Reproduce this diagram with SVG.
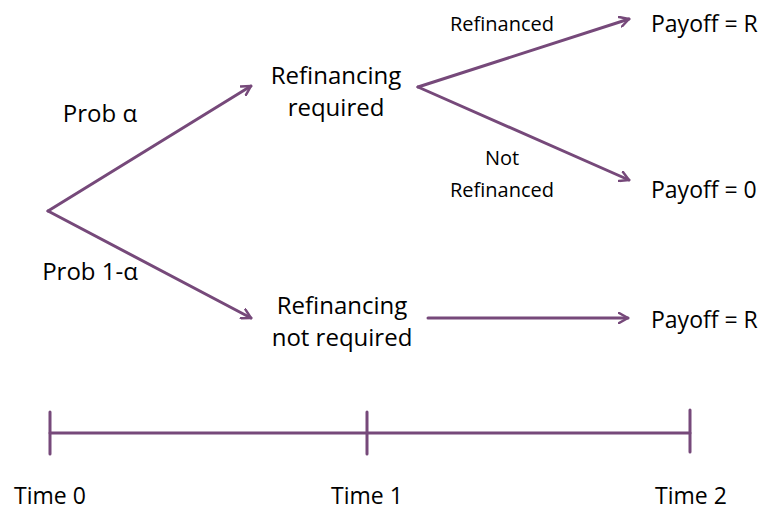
<svg xmlns="http://www.w3.org/2000/svg" width="768" height="512" viewBox="0 0 768 512">
<defs>
<style>
.c{stroke:#76497a;stroke-width:3;fill:none;stroke-linecap:round}
.t{font-family:"Open Sans","Noto Sans",sans-serif;font-size:24px;fill:#000}
.p{font-family:"Open Sans","Noto Sans",sans-serif;font-size:23px;fill:#000}
.m{font-family:"Open Sans","Noto Sans",sans-serif;font-size:23px;fill:#000}
.s{font-family:"Open Sans","Noto Sans",sans-serif;font-size:20px;fill:#000}
</style>
<marker id="a" viewBox="0 0 12 12" refX="10" refY="6" markerWidth="12" markerHeight="12" markerUnits="userSpaceOnUse" orient="auto">
<path d="M1,1 L10,6 L1,11" fill="none" stroke="#76497a" stroke-width="2.5" stroke-linecap="round" stroke-linejoin="round"/>
</marker>
</defs>
<rect width="768" height="512" fill="#fff"/>
<g id="connectors">
<line class="c" x1="48" y1="211" x2="251" y2="86" marker-end="url(#a)"/>
<line class="c" x1="48" y1="211" x2="251" y2="318" marker-end="url(#a)"/>
<line class="c" x1="418" y1="87" x2="629" y2="19" marker-end="url(#a)"/>
<line class="c" x1="418" y1="87" x2="629" y2="180" marker-end="url(#a)"/>
<line class="c" x1="428" y1="318" x2="628" y2="318" marker-end="url(#a)"/>
</g>
<g id="labels">
<text class="t" x="100" y="122" text-anchor="middle">Prob α</text>
<text class="t" x="90" y="280" text-anchor="middle">Prob 1-α</text>
<text class="s" x="502" y="31" text-anchor="middle">Refinanced</text>
<text class="s" x="502" y="165" text-anchor="middle">Not</text>
<text class="s" x="502" y="197" text-anchor="middle">Refinanced</text>
</g>
<g id="node-refi-required">
<text class="t" x="336" y="84" text-anchor="middle">Refinancing</text>
<text class="t" x="336" y="116" text-anchor="middle">required</text>
</g>
<g id="node-refi-not-required">
<text class="t" x="342" y="314" text-anchor="middle">Refinancing</text>
<text class="t" x="342" y="346" text-anchor="middle">not required</text>
</g>
<g id="node-payoff-r1"><text class="p" x="651" y="32">Payoff = R</text></g>
<g id="node-payoff-0"><text class="p" x="651" y="198">Payoff = 0</text></g>
<g id="node-payoff-r2"><text class="p" x="651" y="328">Payoff = R</text></g>
<g id="timeline">
<line class="c" x1="50" y1="433" x2="690" y2="433"/>
<line class="c" x1="50" y1="412" x2="50" y2="454"/>
<line class="c" x1="367" y1="412" x2="367" y2="454"/>
<line class="c" x1="690" y1="410" x2="690" y2="452"/>
<text class="m" x="50" y="504" text-anchor="middle">Time 0</text>
<text class="m" x="367" y="504" text-anchor="middle">Time 1</text>
<text class="m" x="691" y="504" text-anchor="middle">Time 2</text>
</g>
</svg>
